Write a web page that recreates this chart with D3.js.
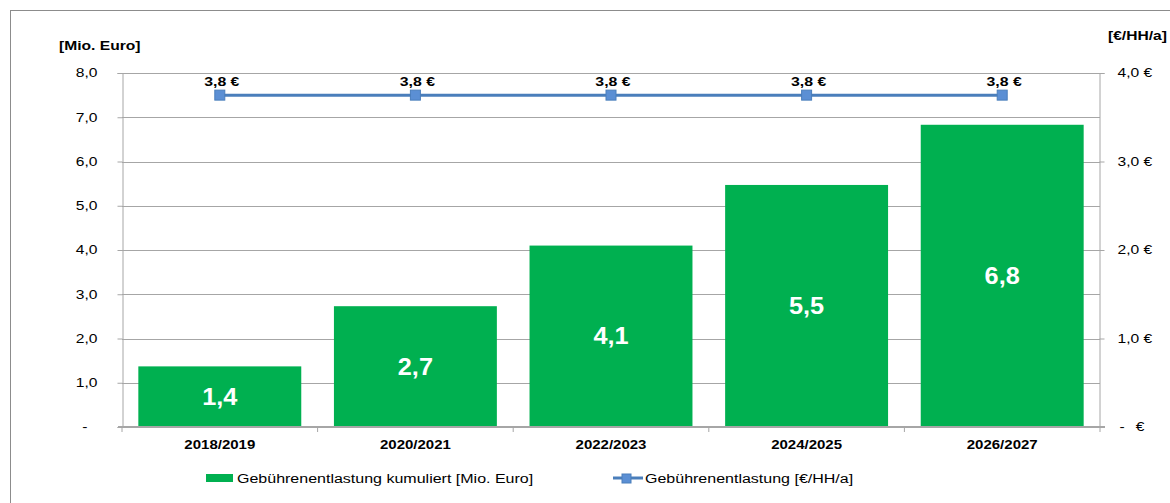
<!DOCTYPE html>
<html lang="de">
<head>
<meta charset="UTF-8">
<title>Gebührenentlastung</title>
<script src="https://cdnjs.cloudflare.com/ajax/libs/d3/7.8.5/d3.min.js"></script>
<style>
  body { margin: 0; background: #fff; }
  svg { display: block; }
  svg text { font-family: "Liberation Sans", Arial, sans-serif; fill: #000; }
  .tick text { font-size: 12px; }
</style>
</head>
<body>
<div id="chart"></div>
<script>
// Daten
const categories = ["2018/2019", "2020/2021", "2022/2023", "2024/2025", "2026/2027"];
const cumulative = [1.37, 2.73, 4.1, 5.47, 6.83];      // Mio. Euro
const perHousehold = [3.75, 3.75, 3.75, 3.75, 3.75];  // €/HH/a
const leftTicks = [0, 1, 2, 3, 4, 5, 6, 7, 8];
const rightTicks = [0, 1, 2, 3, 4];

const width = 1170, height = 503;
const margin = { left: 122, right: 1100, top: 73, bottom: 427 };

// Schrift im Original ist horizontal gedehnt
function stretch(sel, k) {
  sel.each(function () {
    const l = this.getComputedTextLength();
    d3.select(this).attr("textLength", l * k).attr("lengthAdjust", "spacingAndGlyphs");
  });
}

const svg = d3.select("#chart").append("svg")
  .attr("width", width)
  .attr("height", height);

// Rahmen
svg.append("rect")
  .attr("x", 10.5).attr("y", 10.5)
  .attr("width", 1200).attr("height", 600)
  .attr("fill", "none").attr("stroke", "#8c8c8c");

const x = d3.scaleBand()
  .domain(categories)
  .range([margin.left, margin.right])
  .paddingInner(0.167)
  .paddingOuter(0.0835);

const yL = d3.scaleLinear().domain([0, 8]).range([margin.bottom, margin.top]);
const yR = d3.scaleLinear().domain([0, 4]).range([margin.bottom, margin.top]);

const comma = d => d === 0 ? "-" : d3.format(".1f")(d).replace(".", ",");

// Gitterlinien
svg.append("g")
  .selectAll("line")
  .data(leftTicks.slice(1))
  .join("line")
  .attr("x1", margin.left).attr("x2", margin.right)
  .attr("y1", d => Math.round(yL(d)) + 0.5).attr("y2", d => Math.round(yL(d)) + 0.5)
  .attr("stroke", "#a6a6a6");

// linke Achse
const gL = svg.append("g")
  .attr("transform", `translate(${margin.left + 0.5},0)`)
  .call(d3.axisLeft(yL).tickValues(leftTicks).tickFormat(comma).tickSize(5).tickPadding(20));
gL.select(".domain").attr("stroke", "#a6a6a6");
gL.selectAll(".tick line").attr("stroke", "#a6a6a6");
stretch(gL.selectAll(".tick text"), 1.3);
gL.selectAll(".tick").filter(d => d === 0).select("text").attr("dx", -10);

// rechte Achse
const gR = svg.append("g")
  .attr("transform", `translate(${margin.right - 0.5},0)`)
  .call(d3.axisRight(yR).tickValues(rightTicks)
    .tickFormat(d => d === 0 ? "-" : comma(d) + " €").tickSize(5).tickPadding(15));
gR.select(".domain").attr("stroke", "#a6a6a6");
gR.selectAll(".tick line").attr("stroke", "#a6a6a6");
stretch(gR.selectAll(".tick text"), 1.3);
gR.selectAll(".tick").filter(d => d !== 0).select("text").attr("x", 18);
// Euro-Zeichen bei null
gR.selectAll(".tick").filter(d => d === 0)
  .append("text")
  .attr("x", 45).attr("dy", "0.32em")
  .attr("text-anchor", "end")
  .style("font-size", "12px")
  .text("€")
  .call(stretch, 1.3);

// Balken
svg.append("g")
  .selectAll("rect")
  .data(cumulative)
  .join("rect")
  .attr("x", (d, i) => x(categories[i]))
  .attr("width", x.bandwidth())
  .attr("y", d => yL(d))
  .attr("height", d => yL(0) - yL(d))
  .attr("fill", "#00b050");

svg.append("g")
  .selectAll("text")
  .data(cumulative)
  .join("text")
  .attr("x", (d, i) => x(categories[i]) + x.bandwidth() / 2)
  .attr("y", d => (yL(d) + yL(0)) / 2 + 8)
  .attr("text-anchor", "middle")
  .attr("font-size", 23)
  .attr("font-weight", "bold")
  .style("fill", "#fff")
  .text(d => d3.format(".1f")(d).replace(".", ","))
  .call(stretch, 1.1);

// x-Achse
const gX = svg.append("g")
  .attr("transform", `translate(0,${margin.bottom})`)
  .call(d3.axisBottom(x).tickSize(0).tickPadding(13));
gX.select(".domain").remove();
gX.selectAll(".tick text").attr("font-weight", "bold").call(stretch, 1.25);
svg.append("line")
  .attr("x1", margin.left - 4).attr("x2", margin.right + 5)
  .attr("y1", margin.bottom).attr("y2", margin.bottom)
  .attr("stroke", "#a6a6a6").attr("stroke-width", 2);
// Trennstriche zwischen Kategorien
const bounds = d3.range(categories.length + 1).map(i => margin.left + i * x.step());
svg.append("g")
  .selectAll("line")
  .data(bounds)
  .join("line")
  .attr("x1", d => d).attr("x2", d => d)
  .attr("y1", margin.bottom).attr("y2", margin.bottom + 5)
  .attr("stroke", "#a6a6a6");

// Linie
const cx = i => x(categories[i]) + x.bandwidth() / 2;
svg.append("path")
  .datum(perHousehold)
  .attr("fill", "none")
  .attr("stroke", "#4a7ebb")
  .attr("stroke-width", 3)
  .attr("d", d3.line().x((d, i) => cx(i)).y(d => yR(d)));

svg.append("g")
  .selectAll("rect")
  .data(perHousehold)
  .join("rect")
  .attr("x", (d, i) => cx(i) - 5)
  .attr("y", d => yR(d) - 5)
  .attr("width", 10).attr("height", 10)
  .attr("fill", "#5b8fd4")
  .attr("stroke", "#4a7ebb");

svg.append("g")
  .selectAll("text")
  .data(perHousehold)
  .join("text")
  .attr("x", (d, i) => cx(i) + 2)
  .attr("y", d => yR(d) - 9)
  .attr("text-anchor", "middle")
  .attr("font-size", 12)
  .attr("font-weight", "bold")
  .text(d => d3.format(".1f")(d).replace(".", ",") + " €")
  .call(stretch, 1.32);

// Achsentitel
svg.append("text").attr("x", 59).attr("y", 50)
  .attr("font-size", 12).attr("font-weight", "bold").text("[Mio. Euro]")
  .call(stretch, 1.3);
svg.append("text").attr("x", 1108).attr("y", 40)
  .attr("font-size", 12).attr("font-weight", "bold").text("[€/HH/a]")
  .call(stretch, 1.3);

// Legende
const leg = svg.append("g");
leg.append("rect").attr("x", 206).attr("y", 474).attr("width", 27).attr("height", 8).attr("fill", "#00b050");
leg.append("text").attr("x", 237).attr("y", 483).attr("font-size", 12.5)
  .text("Gebührenentlastung kumuliert [Mio. Euro]")
  .call(stretch, 1.28);
leg.append("line").attr("x1", 613).attr("x2", 643).attr("y1", 478).attr("y2", 478)
  .attr("stroke", "#4a7ebb").attr("stroke-width", 3);
leg.append("rect").attr("x", 622).attr("y", 474).attr("width", 9).attr("height", 9)
  .attr("fill", "#5b8fd4").attr("stroke", "#4a7ebb");
leg.append("text").attr("x", 645).attr("y", 483).attr("font-size", 12.5)
  .text("Gebührenentlastung [€/HH/a]")
  .call(stretch, 1.28);
</script>
</body>
</html>
